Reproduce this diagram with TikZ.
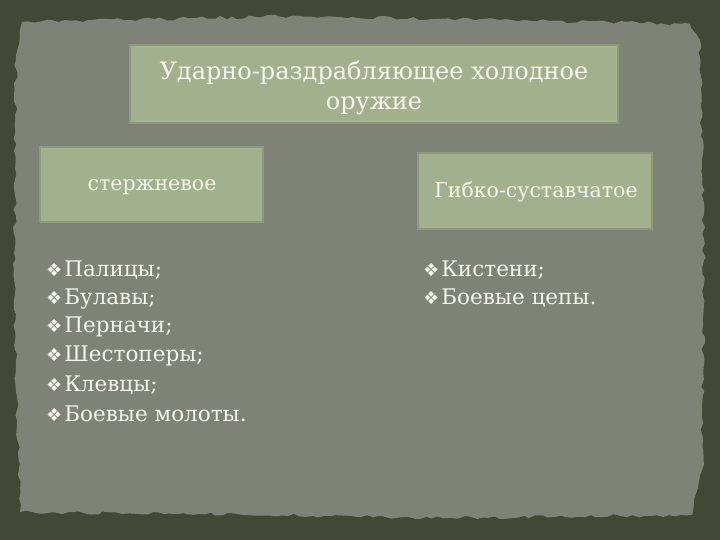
\documentclass[tikz,border=0pt]{standalone}
\usepackage{fontspec}
\setmainfont{DejaVu Serif}
\newfontfamily\symfont{DejaVu Sans}
\usetikzlibrary{decorations.pathmorphing}
\definecolor{outerbg}{HTML}{434735}
\definecolor{paper}{HTML}{7F8276}
\definecolor{boxfill}{HTML}{A3B08E}
\definecolor{boxline}{HTML}{8E9B7A}
\definecolor{txt}{HTML}{F4F4EC}
\tikzset{
  greenbox/.style={draw=boxline, line width=1.5pt, fill=boxfill},
  boxtext/.style={text=txt, align=center, inner sep=0pt},
  itemtext/.style={text=txt, anchor=west, inner sep=0pt},
}
\newcommand{\bul}{{\symfont\fontsize{18}{18}\selectfont ❖}\hspace{2pt}}
\begin{document}
\begin{tikzpicture}[x=1pt,y=-1pt]
\useasboundingbox (0,0) rectangle (720,540);
\fill[outerbg] (0,0) rectangle (720,540);
\pgfmathsetseed{7}
\fill[paper, decorate, decoration={random steps, segment length=6pt, amplitude=1.8pt}]
  (22,22) -- (300,16) -- (500,20) -- (690,24) -- (700,40) -- (704,260) -- (702,470) -- (692,515) -- (450,518) -- (200,514) -- (20,512) -- (14,300) -- (16,60) -- cycle;
% boxes
\path[greenbox] (130,45) rectangle (618,123);
\path[greenbox] (40,147) rectangle (263,222);
\path[greenbox] (418,153) rectangle (652,229);
\node[boxtext, font=\fontsize{24}{30}\selectfont] (title) at (374,88) {Ударно-раздрабляющее холодное\\оружие};
\node[boxtext, font=\fontsize{20.5}{24}\selectfont] (rod) at (152,187) {стержневое};
\node[boxtext, font=\fontsize{20.5}{24}\selectfont] (flex) at (536,192) {Гибко-суставчатое};
% lists
\begin{scope}[font=\fontsize{21.5}{26}\selectfont]
\node[itemtext] (l1) at (46,270) {\bul Палицы;};
\node[itemtext] (l2) at (46,299) {\bul Булавы;};
\node[itemtext] (l3) at (46,327) {\bul Перначи;};
\node[itemtext] (l4) at (46,356) {\bul Шестоперы;};
\node[itemtext] (l5) at (46,385) {\bul Клевцы;};
\node[itemtext] (l6) at (46,414) {\bul Боевые молоты.};
\node[itemtext] (r1) at (423,270) {\bul Кистени;};
\node[itemtext] (r2) at (423,298) {\bul Боевые цепы.};
\end{scope}
\end{tikzpicture}
\end{document}
